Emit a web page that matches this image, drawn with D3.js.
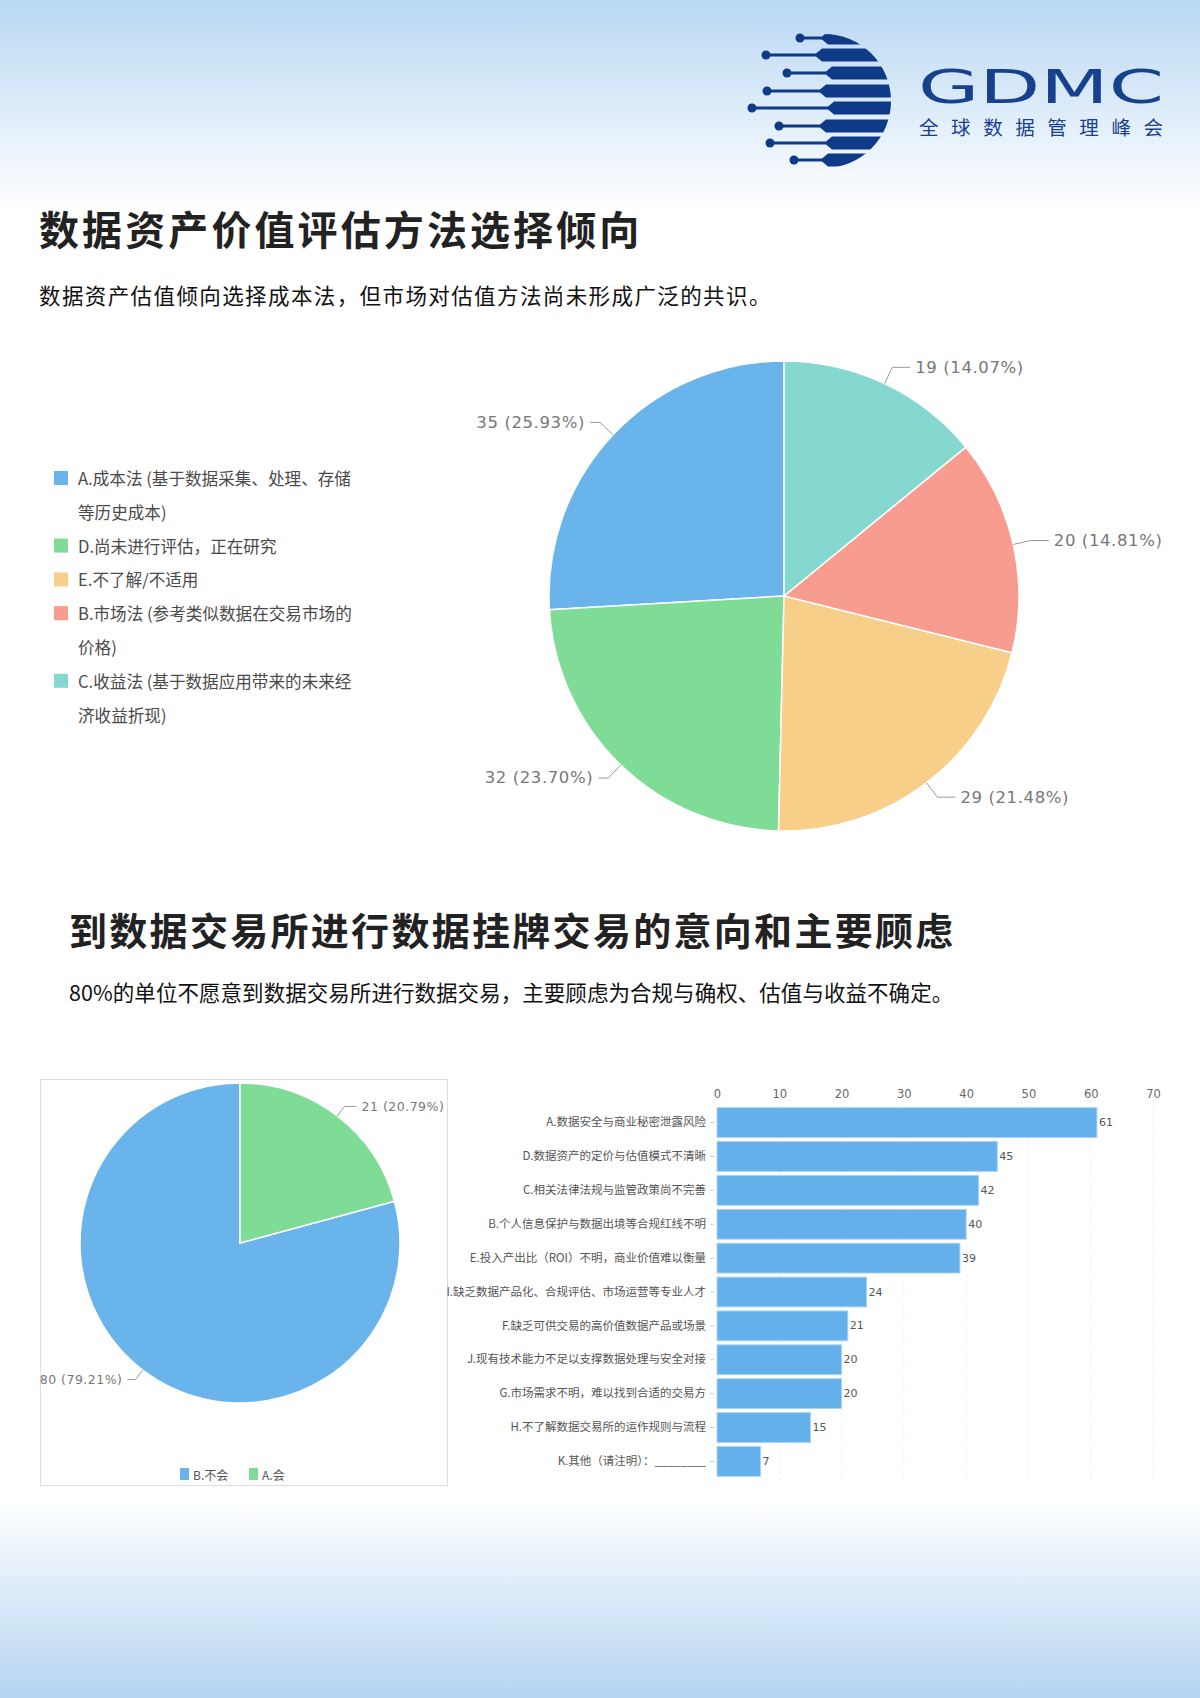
<!DOCTYPE html>
<html><head><meta charset="utf-8">
<script src="https://cdn.jsdelivr.net/npm/d3@7"></script>
<style>
html,body{margin:0;padding:0;background:#fff;}
svg{display:block;font-family:"Noto Sans CJK SC","Noto Sans",sans-serif;}
</style></head>
<body>
<svg id="c" width="1200" height="1698"></svg>
<script>
// ---------- data ----------
const title1 = "数据资产价值评估方法选择倾向";
const sub1 = "数据资产估值倾向选择成本法，但市场对估值方法尚未形成广泛的共识。";
const title2 = "到数据交易所进行数据挂牌交易的意向和主要顾虑";
const sub2 = "80%的单位不愿意到数据交易所进行数据交易，主要顾虑为合规与确权、估值与收益不确定。";

const pie1Categories = ["A","D","E","B","C"];
const pie1Labels = [
  ["A.成本法 (基于数据采集、处理、存储","等历史成本)"],
  ["D.尚未进行评估，正在研究"],
  ["E.不了解/不适用"],
  ["B.市场法 (参考类似数据在交易市场的","价格)"],
  ["C.收益法 (基于数据应用带来的未来经","济收益折现)"]
];
const pie1Values = [35,32,29,20,19];
const pie1Colors = ["#6ab4ec","#7fdc97","#f8cf88","#f79c8e","#85d8d0"];

const pie2Categories = ["B.不会","A.会"];
const pie2Values = [80,21];
const pie2Colors = ["#6ab4ec","#7fdc97"];

const barCategories = [
  "A.数据安全与商业秘密泄露风险",
  "D.数据资产的定价与估值模式不清晰",
  "C.相关法律法规与监管政策尚不完善",
  "B.个人信息保护与数据出境等合规红线不明",
  "E.投入产出比（ROI）不明，商业价值难以衡量",
  "I.缺乏数据产品化、合规评估、市场运营等专业人才",
  "F.缺乏可供交易的高价值数据产品或场景",
  "J.现有技术能力不足以支撑数据处理与安全对接",
  "G.市场需求不明，难以找到合适的交易方",
  "H.不了解数据交易所的运作规则与流程",
  "K.其他（请注明）：________"
];
const barValues = [61,45,42,40,39,24,21,20,20,15,7];
const barTicks = [0,10,20,30,40,50,60,70];

// ---------- drawing ----------
const svg = d3.select("#c");
const defs = svg.append("defs");
const gTop = defs.append("linearGradient").attr("id","gt").attr("x1",0).attr("x2",0).attr("y1",0).attr("y2",1);
gTop.append("stop").attr("offset","0%").attr("stop-color","#b9d7f3");
gTop.append("stop").attr("offset","100%").attr("stop-color","#ffffff");
const gBot = defs.append("linearGradient").attr("id","gb").attr("x1",0).attr("x2",0).attr("y1",0).attr("y2",1);
gBot.append("stop").attr("offset","0%").attr("stop-color","#ffffff");
gBot.append("stop").attr("offset","100%").attr("stop-color","#b5d4f2");

svg.append("rect").attr("width",1200).attr("height",1698).attr("fill","#fff");
svg.append("rect").attr("width",1200).attr("height",210).attr("fill","url(#gt)");
svg.append("rect").attr("y",1500).attr("width",1200).attr("height",198).attr("fill","url(#gb)");

// ---------- logo ----------
(function logo(){
  const navy = "#0e3a87";
  const g = svg.append("g");
  const cx = 824, cy = 101, r = 67;
  defs.append("clipPath").attr("id","lc").append("circle").attr("cx",cx).attr("cy",cy).attr("r",r);
  const rows = [[38,800,828],[55,766,822],[73,787,832],[91,767,826],[108,752,834],[126,779,826],[143,770,832],[160,794,828]];
  const cl = g.append("g").attr("clip-path","url(#lc)");
  rows.forEach(([y,dx,bx])=>{
    cl.append("path").attr("d",`M${bx-6},${y-1.5} L${bx},${y-6.5} L${cx+r+2},${y-6.5} L${cx+r+2},${y+6.5} L${bx},${y+6.5} L${bx-6},${y+1.5} Z`).attr("fill",navy);
    g.append("line").attr("x1",dx).attr("x2",bx-4).attr("y1",y).attr("y2",y).attr("stroke",navy).attr("stroke-width",3);
    g.append("circle").attr("cx",dx).attr("cy",y).attr("r",4.5).attr("fill",navy);
  });
  g.append("text").attr("x",918).attr("y",103).attr("font-family","DejaVu Sans").attr("font-size",46)
    .attr("fill","#17418c").attr("textLength",246).attr("lengthAdjust","spacingAndGlyphs").text("GDMC");
  g.append("text").attr("x",919).attr("y",135).attr("font-size",19.5).attr("fill","#17418c")
    .attr("textLength",244).attr("lengthAdjust","spacing").text("全球数据管理峰会");
})();

// ---------- titles ----------
svg.append("text").attr("x",39).attr("y",245).attr("font-size",40).attr("font-weight",700).attr("letter-spacing",3.1).attr("fill","#222").text(title1);
svg.append("text").attr("x",39).attr("y",304).attr("font-size",21.5).attr("letter-spacing",1.4).attr("fill","#111").text(sub1);
svg.append("text").attr("x",69).attr("y",945).attr("font-size",38).attr("font-weight",700).attr("letter-spacing",2.3).attr("fill","#222").text(title2);
svg.append("text").attr("x",69).attr("y",1001).attr("font-size",21.5).attr("letter-spacing",0.05).attr("fill","#111").text(sub2);

// ---------- pies ----------
function drawPie(cx, cy, r, values, colors, fs, ls, elbow, hlenR, hlenL){
  const total = d3.sum(values);
  const pie = d3.pie().sort(null).startAngle(0).endAngle(-2*Math.PI);
  const arcs = pie(values);
  const arc = d3.arc().innerRadius(0).outerRadius(r);
  const g = svg.append("g").attr("transform",`translate(${cx},${cy})`);
  g.selectAll("path.s").data(arcs).join("path").attr("class","s").attr("d",arc)
    .attr("fill",(d,i)=>colors[i]).attr("stroke","#fff").attr("stroke-width",1.5);
  arcs.forEach((d,i)=>{
    const a = (d.startAngle+d.endAngle)/2;
    const sx = Math.sin(a), sy = -Math.cos(a);
    const p0 = [sx*r, sy*r], p1 = [sx*(r+elbow), sy*(r+elbow)];
    const side = sx >= 0 ? 1 : -1;
    const p2 = [p1[0]+side*(side>0?hlenR:hlenL), p1[1]];
    g.append("polyline").attr("points",[p0,p1,p2].map(p=>p.join(",")).join(" "))
      .attr("fill","none").attr("stroke","#999").attr("stroke-width",1);
    g.append("text").attr("x",p2[0]+side*5).attr("y",p2[1]).attr("dominant-baseline","central")
      .attr("text-anchor",side>0?"start":"end").attr("font-family","DejaVu Sans").attr("font-size",fs)
      .attr("letter-spacing",ls).attr("fill","#777")
      .text(`${values[i]} (${(values[i]/total*100).toFixed(2)}%)`);
  });
}
drawPie(784, 596, 235, pie1Values, pie1Colors, 16.5, 0.6, 18, 18, 10);

// legend 1
const leg1 = svg.append("g");
let ly = 478;
pie1Labels.forEach((lines,i)=>{
  leg1.append("rect").attr("x",54).attr("y",ly-7).attr("width",14).attr("height",14).attr("fill",pie1Colors[i]);
  lines.forEach((t,j)=>{
    leg1.append("text").attr("x",78).attr("y",ly+j*33.8).attr("dominant-baseline","central")
      .attr("font-size",16.6).attr("fill","#4a4a4a").text(t);
  });
  ly += lines.length*33.8;
});

// pie 2 box
svg.append("rect").attr("x",40.5).attr("y",1079.5).attr("width",407).attr("height",406).attr("fill","#fff").attr("stroke","#ddd");
drawPie(240, 1243, 160, pie2Values, pie2Colors, 12.5, 0.5, 12, 12, 8);
const leg2 = svg.append("g");
const l2x = [180, 249];
pie2Categories.forEach((c,i)=>{
  leg2.append("rect").attr("x",l2x[i]).attr("y",1468).attr("width",9).attr("height",12).attr("fill",pie2Colors[i]);
  leg2.append("text").attr("x",l2x[i]+13).attr("y",1474).attr("dominant-baseline","central").attr("font-size",12).attr("fill","#555").text(c);
});

// ---------- bar chart ----------
const x = d3.scaleLinear().domain([0,70]).range([717,1153]);
const y = d3.scaleBand().domain(barCategories).range([1106,1478]).paddingInner(0.12).paddingOuter(0.05);
const bg = svg.append("g");
bg.selectAll("line.grid").data(barTicks.slice(1)).join("line").attr("class","grid")
  .attr("x1",d=>x(d)).attr("x2",d=>x(d)).attr("y1",1100).attr("y2",1480)
  .attr("stroke","#eee").attr("stroke-dasharray","3,3");
const xAxis = d3.axisTop(x).tickValues(barTicks).tickSize(0).tickPadding(0);
bg.append("g").attr("transform","translate(0,1098)").call(xAxis)
  .call(g=>g.select(".domain").remove())
  .call(g=>g.selectAll("text").attr("font-family","DejaVu Sans").attr("font-size",11.5).attr("fill","#666"));
const yAxis = d3.axisLeft(y).tickSize(4).tickPadding(4);
bg.append("g").attr("transform","translate(714,0)").call(yAxis)
  .call(g=>g.select(".domain").remove())
  .call(g=>g.selectAll("line").attr("stroke","#ccc"))
  .call(g=>g.selectAll("text").attr("font-family","Noto Sans CJK SC").attr("font-size",11.5).attr("fill","#555"));
bg.selectAll("rect.bar").data(barValues).join("rect").attr("class","bar")
  .attr("x",x(0)).attr("y",(d,i)=>y(barCategories[i])).attr("width",d=>x(d)-x(0)).attr("height",y.bandwidth())
  .attr("fill","#64b0eb").attr("stroke","#a9d3f5").attr("stroke-width",1);
bg.selectAll("text.val").data(barValues).join("text").attr("class","val")
  .attr("x",d=>x(d)+2).attr("y",(d,i)=>y(barCategories[i])+y.bandwidth()/2).attr("dominant-baseline","central")
  .attr("font-family","DejaVu Sans").attr("font-size",11).attr("fill","#555").text(d=>d);
</script>
</body></html>
